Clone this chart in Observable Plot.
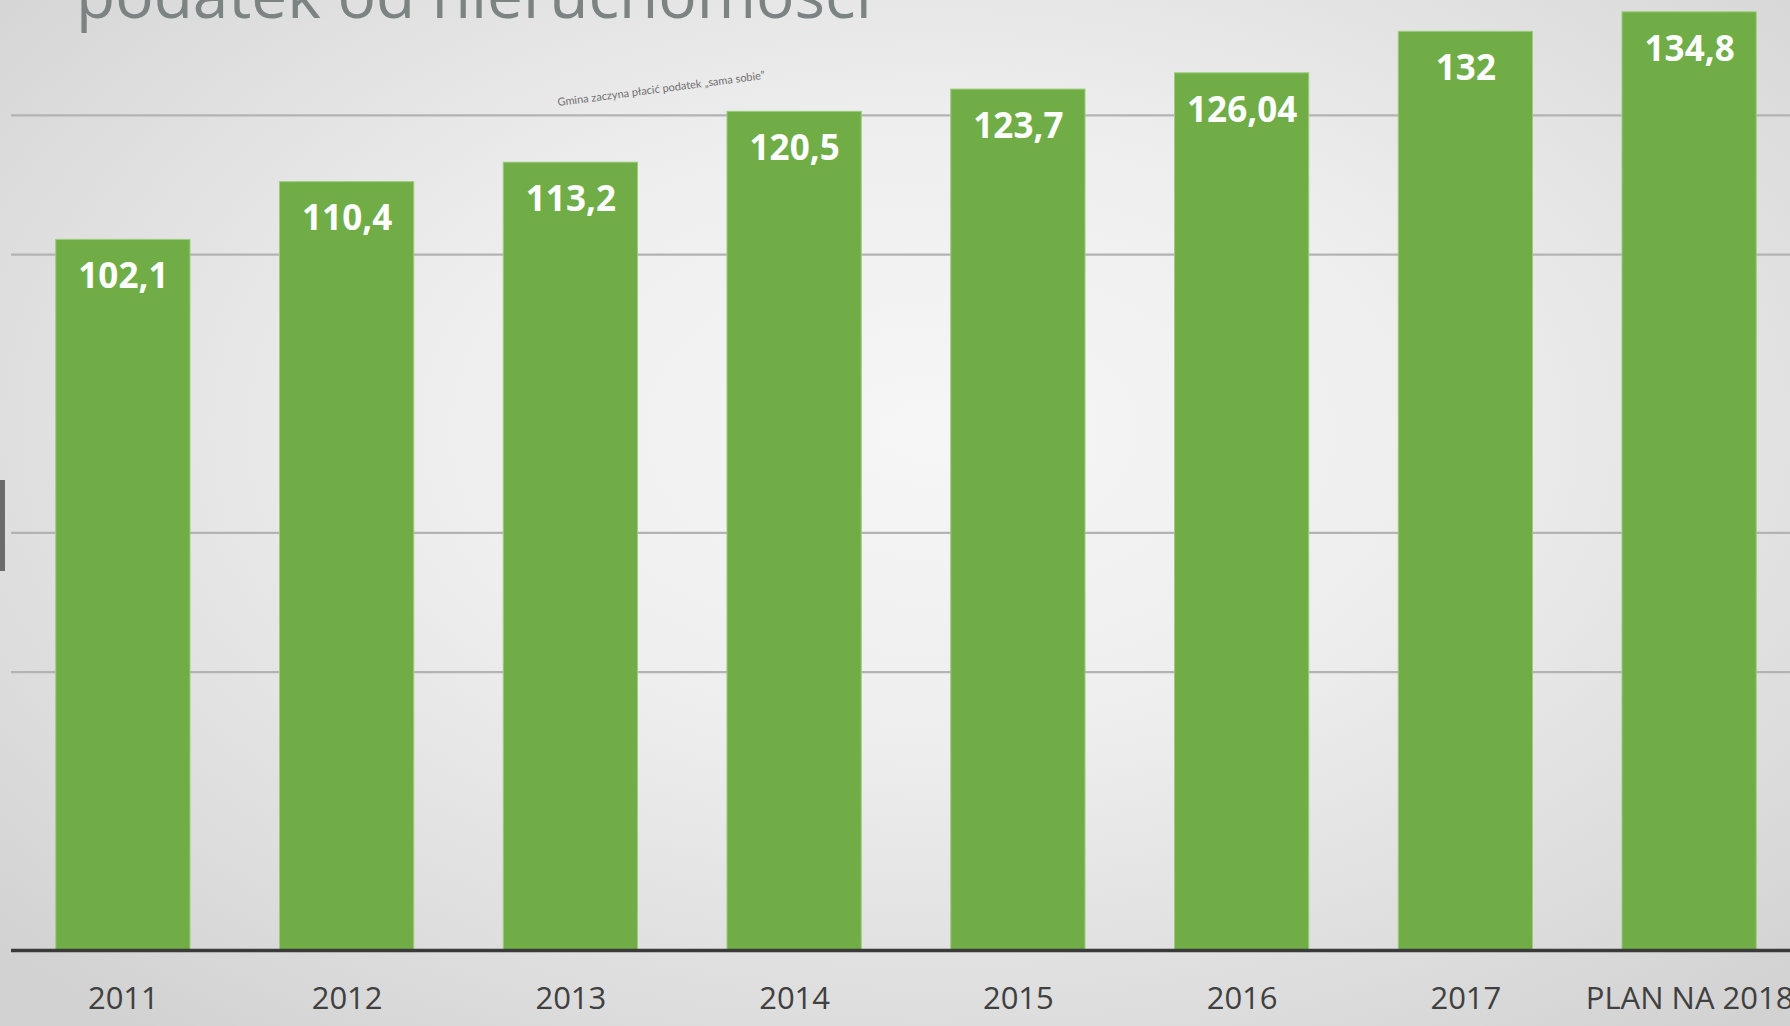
<!DOCTYPE html>
<html>
<head>
<meta charset="utf-8">
<script src="https://cdn.jsdelivr.net/npm/d3@7"></script>
<script src="https://cdn.jsdelivr.net/npm/@observablehq/plot@0.6"></script>
<style>
  html, body { margin: 0; padding: 0; width: 1790px; height: 1026px; overflow: hidden; }
  body {
    position: relative;
    background: radial-gradient(ellipse 70% 75% at 52% 42%, #f6f6f6 0%, #eeeeee 40%, #dcdcdc 80%, #d2d2d2 100%);
    font-family: "Open Sans", sans-serif;
  }
  #title {
    position: absolute; left: 76px; top: -38px; margin: 0;
    font-family: "Open Sans", sans-serif; font-weight: 400; font-size: 64px; line-height: 64px;
    color: #7b8383; white-space: nowrap;
  }
  #note {
    position: absolute; left: 661px; top: 88px;
    transform: translate(-50%, -50%) rotate(-7.5deg);
    font-family: "Lato", sans-serif; font-size: 11px; color: #6f6f6f; white-space: nowrap;
  }
  #leftbar { position: absolute; left: 0; top: 480px; width: 5px; height: 91px; background: #6b6b6b; }
  #chart { position: absolute; left: 0; top: 0; }
</style>
</head>
<body>
<div id="chart"></div>
<h1 id="title">podatek od nieruchomości</h1>
<div id="note">Gmina zaczyna płacić podatek „sama sobie”</div>
<div id="leftbar"></div>
<script>
const categories = ["2011", "2012", "2013", "2014", "2015", "2016", "2017", "PLAN NA 2018"];
const values = [102.1, 110.4, 113.2, 120.5, 123.7, 126.04, 132, 134.8];
const gridValues = [40, 60, 100, 120];

const data = categories.map((c, i) => ({category: c, value: values[i]}));
const fmt = v => String(v).replace(".", ",");

const chart = Plot.plot({
  width: 1790,
  height: 1026,
  marginTop: 0,
  marginBottom: 76,
  marginLeft: 11,
  marginRight: 0,
  style: {background: "transparent", overflow: "visible"},
  x: {domain: categories, range: [11, 1801], paddingInner: 0.4, paddingOuter: 0.2, round: false, label: null},
  y: {domain: [0, 136.5], axis: null},
  marks: [
    Plot.ruleY(gridValues, {stroke: "#b3b3b3", strokeWidth: 2.2}),
    Plot.barY(data, {x: "category", y: "value", fill: "#70ad47", stroke: "#9ccc7c", strokeWidth: 1}),
    Plot.text(data, {
      x: "category", y: "value", text: d => fmt(d.value),
      dy: 37, lineAnchor: "middle", fill: "white",
      fontFamily: "Open Sans", fontWeight: 700, fontSize: 35
    }),
    Plot.ruleY([0], {stroke: "#3a3a3a", strokeWidth: 3.5}),
    Plot.axisX({
      tickSize: 0, tickPadding: 36, fontSize: 31, fill: "#404040",
      fontFamily: "Open Sans", label: null
    })
  ]
});
document.getElementById("chart").appendChild(chart);
</script>
</body>
</html>
